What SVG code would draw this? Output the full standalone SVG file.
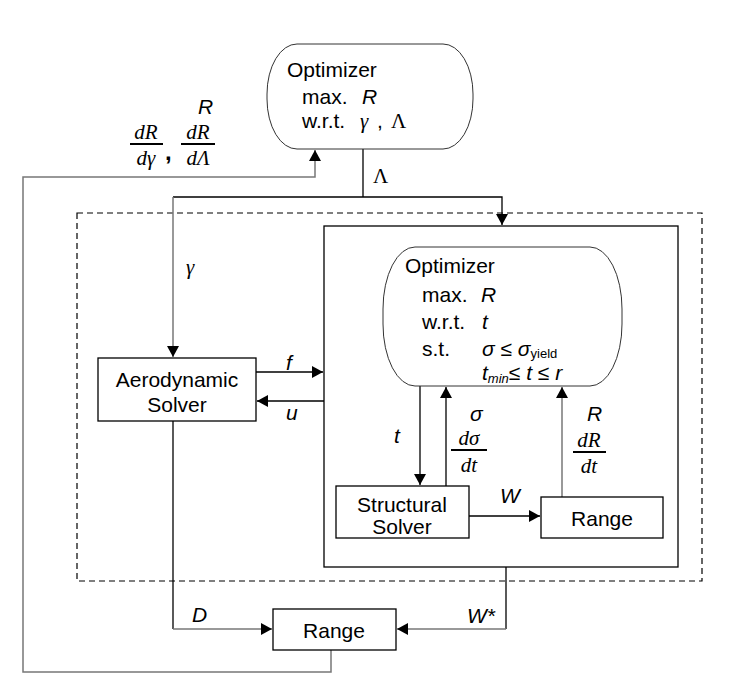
<svg xmlns="http://www.w3.org/2000/svg" width="740" height="680" viewBox="0 0 740 680">
<defs>
<marker id="ah" markerWidth="12" markerHeight="12" refX="11" refY="6" orient="auto" markerUnits="userSpaceOnUse">
<path d="M0,0 L11,6 L0,12 Z" fill="#000"/>
</marker>
<style>
.box{fill:#fff;stroke:#000;stroke-width:1.3}
.opt{fill:#fff;stroke:#333;stroke-width:1}
.ln{fill:none;stroke:#000;stroke-width:1.3}
.gl{fill:none;stroke:#777;stroke-width:1.5}
.t{font-family:"Liberation Sans",Arial,sans-serif;font-size:21px;fill:#000}
.i{font-family:"Liberation Sans",Arial,sans-serif;font-size:21px;font-style:italic;fill:#000}
.m{font-family:"Liberation Serif","Times New Roman",serif;font-size:21px;font-style:italic;fill:#000}
.g{font-family:"Liberation Serif","Times New Roman",serif;font-size:21px;fill:#000}
.fl{stroke:#000;stroke-width:2}
</style>
</defs>
<rect width="740" height="680" fill="#fff"/>

<rect id="outer-group" x="77" y="213" width="625" height="368" fill="none" stroke="#000" stroke-width="1.2" stroke-dasharray="6,4"/>
<rect id="inner-group" x="324" y="226" width="354" height="341" fill="none" stroke="#000" stroke-width="1.3"/>

<g id="connectors">
<path class="ln" d="M363,149 V197"/>
<path class="ln" d="M173,197 H502 V225" marker-end="url(#ah)"/>
<path class="gl" d="M173,197 V357" marker-end="url(#ah)"/>
<path class="ln" d="M256,372 H323" marker-end="url(#ah)"/>
<path class="ln" d="M324,401 H257" marker-end="url(#ah)"/>
<path class="ln" d="M420,386 V485" marker-end="url(#ah)"/>
<path class="ln" d="M446,486 V387" marker-end="url(#ah)"/>
<path class="gl" d="M562,497 V387" marker-end="url(#ah)"/>
<path class="ln" d="M469,516 H540" marker-end="url(#ah)"/>
<path class="ln" d="M173,421 V629"/>
<path class="gl" d="M173,629 H272" marker-end="url(#ah)"/>
<path class="ln" d="M506,567 V629"/>
<path class="gl" d="M506,629 H397" marker-end="url(#ah)"/>
<path class="gl" d="M331,650 V672 H23 V177 H315 V150" marker-end="url(#ah)"/>
</g>

<g id="top-optimizer">
<rect class="opt" x="267" y="44" width="206" height="105" rx="30" ry="50"/>
<text class="t" x="287" y="77">Optimizer</text>
<text class="t" x="302" y="104">max.</text>
<text class="i" x="362" y="104">R</text>
<text class="t" x="302" y="128">w.r.t.</text>
<text class="m" x="360" y="128">γ</text>
<text class="t" x="377" y="128">,</text>
<text class="g" x="391" y="128">Λ</text>
</g>

<g id="labels-top">
<text class="i" x="198" y="114">R</text>
<text class="m" x="146" y="139" text-anchor="middle">dR</text>
<line class="fl" x1="130" y1="144" x2="163" y2="144"/>
<text class="m" x="146" y="165" text-anchor="middle">dγ</text>
<text x="165" y="160" style="font-family:'Liberation Sans',Arial,sans-serif;font-size:24px;font-weight:bold">,</text>
<text class="m" x="198" y="139" text-anchor="middle">dR</text>
<line class="fl" x1="181" y1="144" x2="215" y2="144"/>
<text class="m" x="198" y="165" text-anchor="middle">dΛ</text>
<text class="g" x="373" y="183">Λ</text>
<text class="m" x="186" y="274">γ</text>
<text class="i" x="286" y="370">f</text>
<text class="i" x="286" y="420">u</text>
<text class="i" x="192" y="622">D</text>
<text class="i" x="467" y="623">W*</text>
</g>

<g id="aero-solver">
<rect class="box" x="98" y="358" width="158" height="63"/>
<text class="t" x="177" y="387" text-anchor="middle">Aerodynamic</text>
<text class="t" x="177" y="412" text-anchor="middle">Solver</text>
</g>

<g id="inner-optimizer">
<rect class="opt" x="383" y="247" width="239" height="139" rx="32" ry="62"/>
<text class="t" x="405" y="273">Optimizer</text>
<text class="t" x="422" y="302">max.</text>
<text class="i" x="481" y="302">R</text>
<text class="t" x="422" y="329">w.r.t.</text>
<text class="i" x="482" y="329">t</text>
<text class="t" x="422" y="356">s.t.</text>
<text class="i" x="482" y="356">σ ≤ σ<tspan style="font-style:normal;font-size:13px" dy="2">yield</tspan></text>
<text class="i" x="482" y="380">t<tspan style="font-size:13px" dy="3">min</tspan><tspan dy="-3">≤ t ≤ r</tspan></text>
</g>

<g id="labels-inner">
<text class="i" x="394" y="443">t</text>
<text class="i" x="470" y="421">σ</text>
<text class="m" x="469" y="445" text-anchor="middle">dσ</text>
<line class="fl" x1="451" y1="450" x2="487" y2="450"/>
<text class="m" x="469" y="472" text-anchor="middle">dt</text>
<text class="i" x="587" y="421">R</text>
<text class="m" x="589" y="447" text-anchor="middle">dR</text>
<line class="fl" x1="573" y1="452" x2="606" y2="452"/>
<text class="m" x="589" y="473" text-anchor="middle">dt</text>
<text class="i" x="500" y="503">W</text>
</g>

<g id="structural-solver">
<rect class="box" x="336" y="486" width="133" height="52"/>
<text class="t" x="402" y="512" text-anchor="middle">Structural</text>
<text class="t" x="402" y="534" text-anchor="middle">Solver</text>
</g>

<g id="inner-range">
<rect class="box" x="541" y="497" width="122" height="41"/>
<text class="t" x="602" y="526" text-anchor="middle">Range</text>
</g>

<g id="outer-range">
<rect class="box" x="273" y="609" width="123" height="41"/>
<text class="t" x="334" y="638" text-anchor="middle">Range</text>
</g>
</svg>
